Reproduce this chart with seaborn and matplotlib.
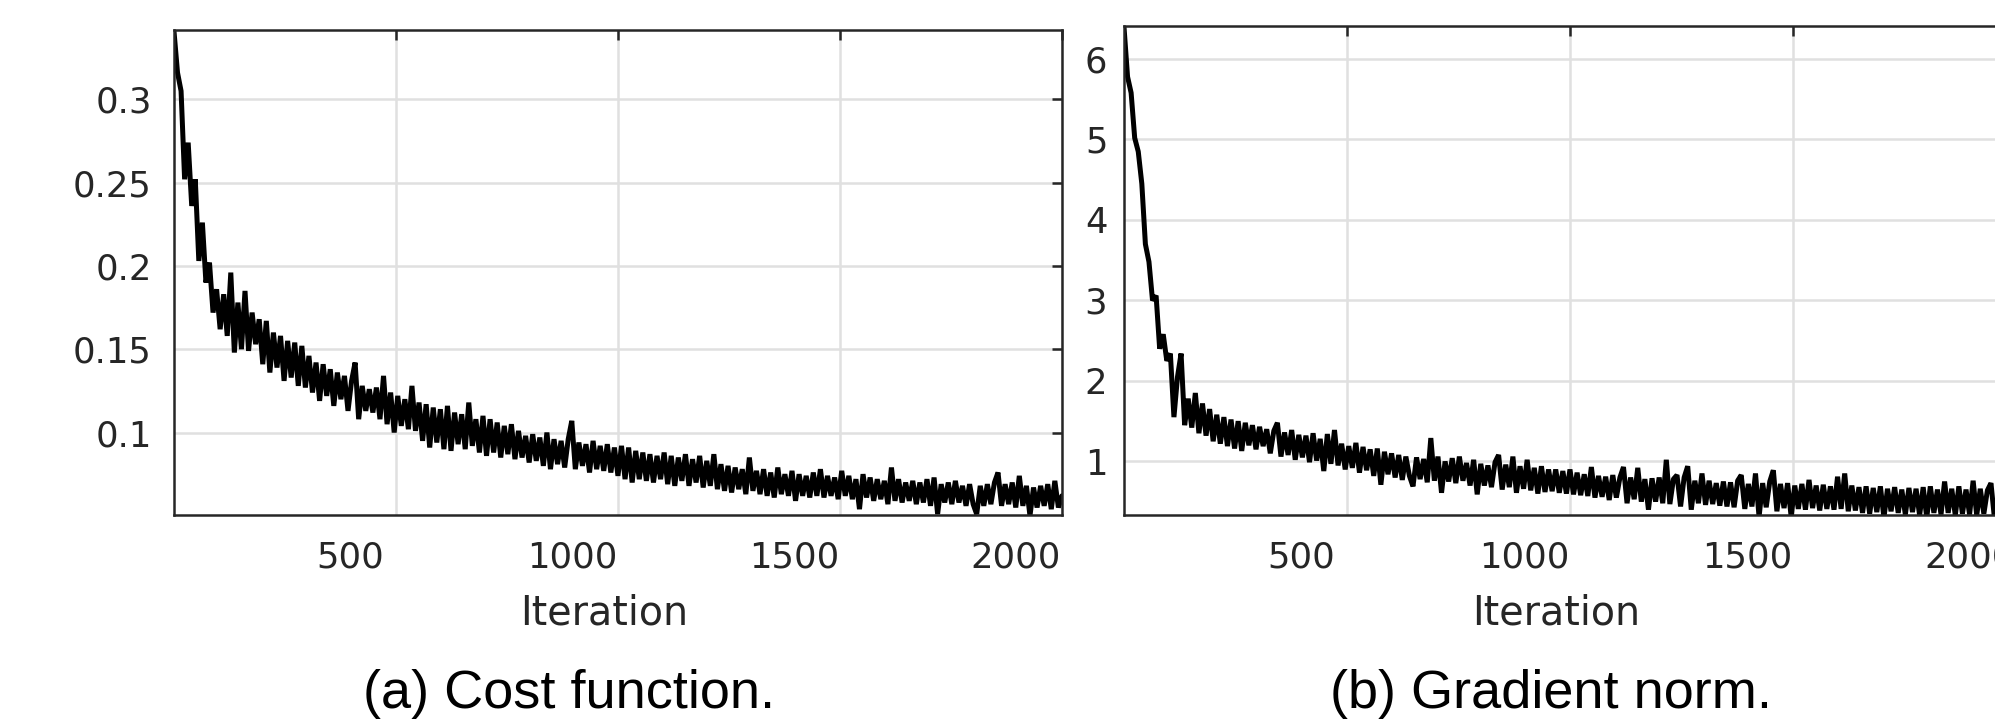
import numpy as np
import pandas as pd
import matplotlib
matplotlib.use("Agg")
import matplotlib.pyplot as plt
import matplotlib.transforms as mtransforms
import seaborn as sns

# ---------------- data ----------------
iterations = list(range(0, 2001, 8))

cost_values = [
    0.341, 0.316, 0.305, 0.252, 0.274, 0.236, 0.252, 0.203, 0.226, 0.190,
    0.202, 0.172, 0.186, 0.162, 0.183, 0.158, 0.196, 0.148, 0.178, 0.150,
    0.185, 0.149, 0.172, 0.153, 0.168, 0.141, 0.167, 0.136, 0.160, 0.139,
    0.158, 0.131, 0.155, 0.133, 0.154, 0.128, 0.152, 0.127, 0.146, 0.124,
    0.142, 0.119, 0.141, 0.122, 0.138, 0.116, 0.136, 0.120, 0.134, 0.113,
    0.131, 0.142, 0.108, 0.128, 0.113, 0.126, 0.112, 0.127, 0.108, 0.134,
    0.105, 0.124, 0.100, 0.122, 0.104, 0.120, 0.102, 0.128, 0.101, 0.118,
    0.095, 0.117, 0.091, 0.115, 0.094, 0.114, 0.090, 0.116, 0.089, 0.112,
    0.093, 0.111, 0.090, 0.118, 0.092, 0.108, 0.088, 0.110, 0.086, 0.108,
    0.088, 0.106, 0.085, 0.104, 0.087, 0.105, 0.084, 0.101, 0.085, 0.098,
    0.082, 0.099, 0.083, 0.097, 0.080, 0.100, 0.078, 0.096, 0.081, 0.095,
    0.079, 0.096, 0.107, 0.078, 0.094, 0.080, 0.093, 0.076, 0.095, 0.078,
    0.092, 0.077, 0.093, 0.076, 0.091, 0.074, 0.092, 0.072, 0.091, 0.070,
    0.089, 0.072, 0.088, 0.071, 0.087, 0.070, 0.086, 0.072, 0.088, 0.069,
    0.086, 0.068, 0.085, 0.071, 0.087, 0.068, 0.084, 0.070, 0.086, 0.067,
    0.083, 0.068, 0.087, 0.066, 0.081, 0.065, 0.080, 0.064, 0.079, 0.066,
    0.078, 0.063, 0.085, 0.065, 0.077, 0.063, 0.078, 0.062, 0.076, 0.061,
    0.079, 0.063, 0.075, 0.062, 0.077, 0.059, 0.075, 0.062, 0.074, 0.061,
    0.076, 0.062, 0.078, 0.061, 0.074, 0.062, 0.073, 0.060, 0.077, 0.062,
    0.074, 0.060, 0.072, 0.054, 0.075, 0.061, 0.073, 0.059, 0.072, 0.060,
    0.071, 0.057, 0.079, 0.059, 0.072, 0.058, 0.070, 0.059, 0.071, 0.057,
    0.070, 0.058, 0.072, 0.056, 0.073, 0.051, 0.069, 0.058, 0.070, 0.057,
    0.071, 0.058, 0.068, 0.056, 0.069, 0.057, 0.051, 0.068, 0.056, 0.069,
    0.057, 0.070, 0.076, 0.056, 0.069, 0.057, 0.070, 0.055, 0.074, 0.056,
    0.068, 0.050, 0.067, 0.055, 0.068, 0.056, 0.069, 0.054, 0.071, 0.055,
    0.062,
]

grad_values = [
    6.40, 5.78, 5.58, 5.02, 4.85, 4.45, 3.70, 3.48, 3.00, 3.06,
    2.40, 2.58, 2.25, 2.34, 1.55, 2.05, 2.34, 1.45, 1.78, 1.42,
    1.85, 1.35, 1.72, 1.32, 1.65, 1.25, 1.58, 1.22, 1.55, 1.19,
    1.52, 1.16, 1.50, 1.13, 1.48, 1.20, 1.45, 1.15, 1.43, 1.19,
    1.40, 1.10, 1.38, 1.48, 1.06, 1.36, 1.08, 1.39, 1.02, 1.33,
    1.05, 1.32, 0.99, 1.35, 1.01, 1.28, 0.88, 1.34, 0.97, 1.39,
    0.95, 1.22, 0.90, 1.19, 0.92, 1.23, 0.86, 1.18, 0.89, 1.15,
    0.82, 1.16, 0.71, 1.12, 0.84, 1.10, 0.80, 1.08, 0.77, 1.06,
    0.82, 0.69, 1.05, 0.78, 1.03, 0.74, 1.29, 0.76, 1.06, 0.61,
    1.00, 0.75, 1.04, 0.73, 1.06, 0.76, 0.98, 0.70, 1.02, 0.59,
    0.97, 0.70, 0.95, 0.68, 0.99, 1.08, 0.65, 0.96, 0.68, 1.06,
    0.61, 0.94, 0.66, 1.02, 0.64, 0.92, 0.60, 0.94, 0.62, 0.90,
    0.63, 0.90, 0.61, 0.88, 0.60, 0.90, 0.59, 0.86, 0.58, 0.84,
    0.57, 0.93, 0.55, 0.82, 0.56, 0.81, 0.52, 0.83, 0.55, 0.80,
    0.93, 0.48, 0.80, 0.53, 0.92, 0.50, 0.78, 0.40, 0.79, 0.50,
    0.80, 0.48, 1.02, 0.47, 0.78, 0.83, 0.44, 0.80, 0.94, 0.40,
    0.76, 0.48, 0.85, 0.46, 0.76, 0.47, 0.73, 0.45, 0.75, 0.44,
    0.74, 0.43, 0.76, 0.83, 0.41, 0.72, 0.44, 0.85, 0.31, 0.73,
    0.43, 0.75, 0.89, 0.38, 0.72, 0.42, 0.73, 0.31, 0.70, 0.41,
    0.72, 0.40, 0.77, 0.42, 0.70, 0.39, 0.71, 0.41, 0.69, 0.40,
    0.81, 0.41, 0.85, 0.38, 0.70, 0.39, 0.68, 0.36, 0.69, 0.35,
    0.67, 0.37, 0.69, 0.30, 0.66, 0.38, 0.68, 0.36, 0.65, 0.34,
    0.67, 0.37, 0.66, 0.33, 0.68, 0.30, 0.69, 0.36, 0.65, 0.34,
    0.75, 0.36, 0.66, 0.33, 0.69, 0.35, 0.65, 0.34, 0.76, 0.33,
    0.66, 0.35, 0.64, 0.73, 0.28, 0.65, 0.34, 0.63, 0.32, 0.64,
    0.45,
]

x_ticks = [500, 1000, 1500, 2000]
cost_yticks = [0.1, 0.15, 0.2, 0.25, 0.3]
cost_yticklabels = ["0.1", "0.15", "0.2", "0.25", "0.3"]
grad_yticks = [1, 2, 3, 4, 5, 6]
grad_yticklabels = ["1", "2", "3", "4", "5", "6"]
x_label = "Iteration"
captions = ["(a) Cost function.", "(b) Gradient norm."]

# ---------------- styling ----------------
sns.set_style("white")
plt.rcParams["font.family"] = ["DejaVu Sans"]

TEXT = "#262626"
fig = plt.figure(figsize=(19.95, 7.23), dpi=100)
ax1 = fig.add_axes([0.0872, 0.2877, 0.4451, 0.6708])
ax2 = fig.add_axes([0.5634, 0.2877, 0.4471, 0.6763])

sns.lineplot(x=iterations, y=cost_values, ax=ax1, color="black",
             linewidth=3.6, errorbar=None)
sns.lineplot(x=iterations, y=grad_values, ax=ax2, color="black",
             linewidth=3.6, errorbar=None)
for ax in (ax1, ax2):
    for ln in ax.get_lines():
        ln.set_solid_joinstyle("bevel")


def style(ax, yticks, ylabels, ylim, ypad):
    ax.set_xlim(0, 2000)
    ax.set_ylim(*ylim)
    ax.set_xticks(x_ticks)
    ax.set_yticks(yticks)
    ax.set_yticklabels(ylabels)
    ax.grid(True, color="#e0e0e0", linewidth=1.8)
    ax.set_axisbelow(True)
    for s in ax.spines.values():
        s.set_visible(True)
        s.set_color(TEXT)
        s.set_linewidth(1.8)
    ax.tick_params(which="both", direction="in", top=True, right=True,
                   length=7, width=1.8, color=TEXT, labelcolor=TEXT,
                   labelsize=25.5)
    ax.tick_params(axis="x", pad=18.5)
    ax.tick_params(axis="y", pad=ypad)
    ax.set_xlabel(x_label, fontsize=28.5, color=TEXT)
    ax.set_ylabel("")
    ax.xaxis.set_label_coords(0.484, -0.161)
    off = mtransforms.ScaledTranslation(-0.46, 0, fig.dpi_scale_trans)
    for lab in ax.get_xticklabels():
        lab.set_transform(lab.get_transform() + off)


style(ax1, cost_yticks, cost_yticklabels, (0.0505, 0.3416), 16)
style(ax2, grad_yticks, grad_yticklabels, (0.334, 6.41), 12)

fig.text(0.2852, 0.0207, captions[0], ha="center", va="baseline",
         fontsize=39, color="black", family=["Liberation Sans", "DejaVu Sans"])
fig.text(0.7774, 0.0207, captions[1], ha="center", va="baseline",
         fontsize=39, color="black", family=["Liberation Sans", "DejaVu Sans"])

fig.savefig("out.png", dpi=100)
